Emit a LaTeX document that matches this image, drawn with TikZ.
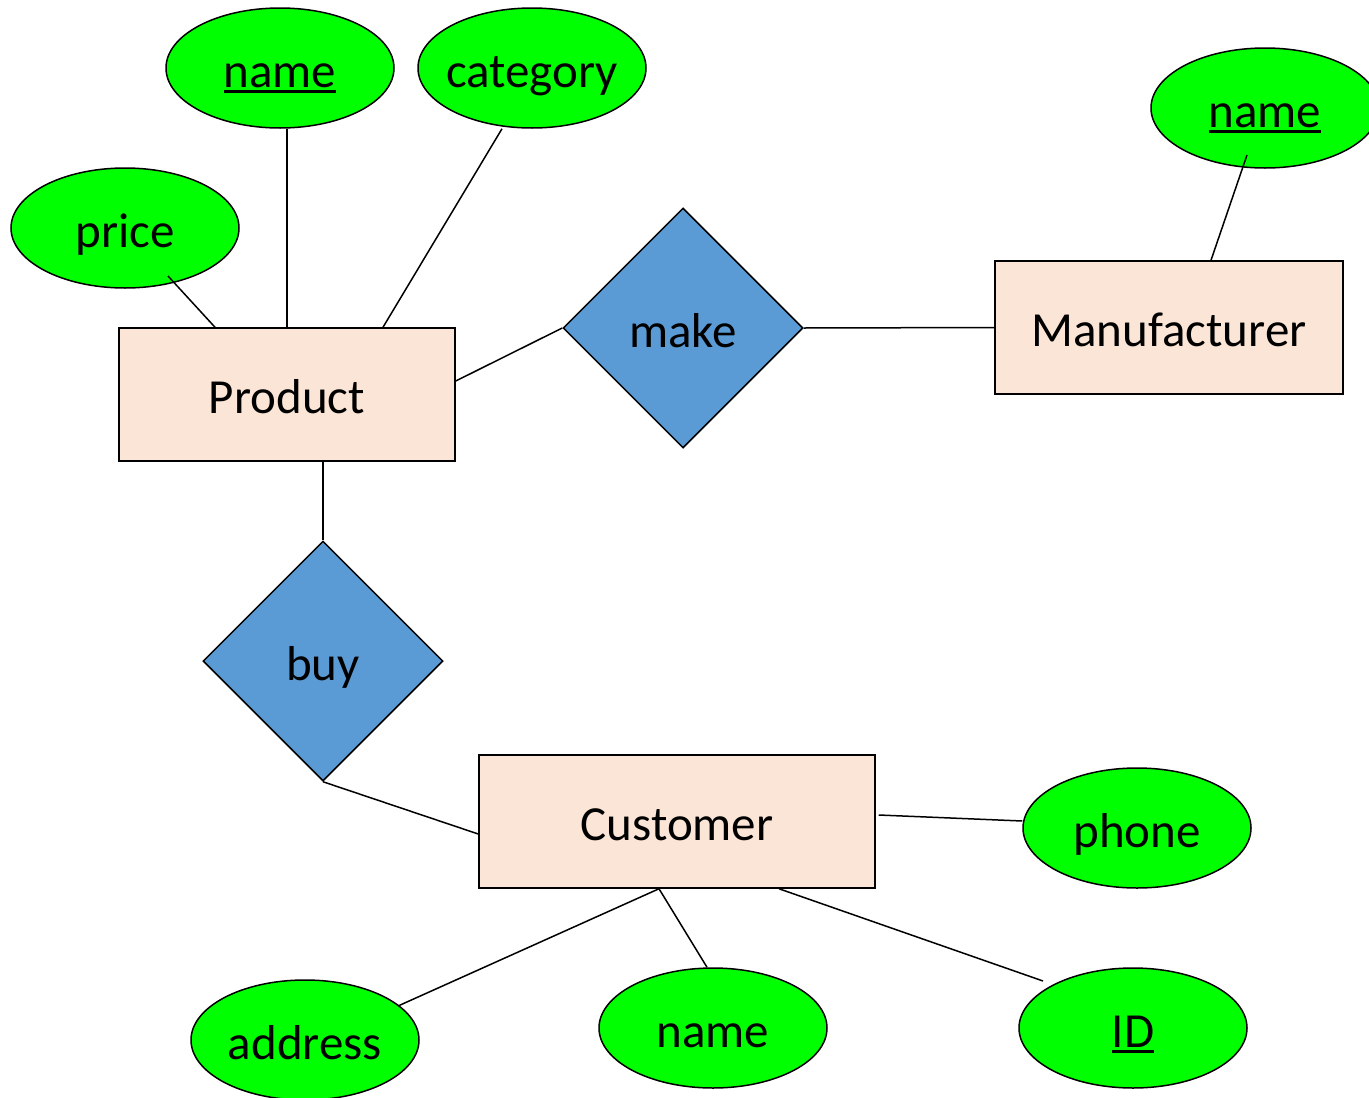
\documentclass[tikz,border=0pt]{standalone}
\usepackage{fontspec}
\setmainfont{Carlito}
\usetikzlibrary{shapes.geometric,calc}
\definecolor{attrgreen}{HTML}{00FF00}
\definecolor{entfill}{HTML}{FBE5D6}
\definecolor{relfill}{HTML}{5B9BD5}
\newcommand\keyul[1]{\setbox0\hbox{#1}\rlap{\raisebox{-6pt}{\rule{\wd0}{2.6pt}}}\box0}
\tikzset{
  attr/.style={ellipse, draw=black, line width=1.5pt, fill=attrgreen, minimum width=228pt, minimum height=120pt, inner xsep=-20pt, inner ysep=0pt},
  entity/.style={rectangle, draw=black, line width=1.5pt, fill=entfill, inner sep=0pt},
  rel/.style={diamond, draw=black, line width=1.5pt, fill=relfill, minimum width=240pt, minimum height=240pt, inner sep=0pt, aspect=1},
  conn/.style={line width=1.5pt, black}
}
\begin{document}
\begin{tikzpicture}[x=1pt,y=-1pt,font=\fontsize{49}{58}\selectfont,
  every node/.append style={text height=38pt, text depth=0pt}]
\useasboundingbox (0,0) rectangle (1369,1098);
\clip (0,0) rectangle (1369,1098);
% attributes
\node[attr] (pname) at (280,68) {\keyul{name}};
\node[attr] (cat) at (532,68) {category};
\node[attr] (price) at (125,228) {price};
\node[attr] (mname) at (1265,108) {\keyul{name}};
\node[attr] (phone) at (1137,828) {phone};
\node[attr] (addr) at (305,1040) {address};
\node[attr] (cname) at (713,1028) {name};
\node[attr] (cid) at (1133,1028) {\keyul{ID}};
% entities
\node[entity, minimum width=336pt, minimum height=133pt] (P) at (287,394.5) {Product};
\node[entity, minimum width=348pt, minimum height=133pt] (M) at (1169,327.5) {Manufacturer};
\node[entity, minimum width=396pt, minimum height=133pt] (C) at (677,821.5) {Customer};
% relationships
\node[rel] (make) at (683,328) {make};
\node[rel] (buy) at (323,661) {buy};
% connectors
\draw[conn] ($(price.center)+(43,48)$) -- ($(P.north)+(-72,0)$);
\draw[conn] ($(pname.south)+(7,0)$) -- (P.north);
\draw[conn] ($(cat.south)+(-30,0)$) -- ($(P.north)+(96,0)$);
\draw[conn] ($(P.east)+(0,-13.5)$) -- (make.west);
\draw[conn] (make.east) -- (M.west);
\draw[conn] ($(mname.center)+(-18,47)$) -- ($(M.north)+(42,0)$);
\draw[conn] ($(P.south)+(36,0)$) -- (buy.north);
\draw[conn] (buy.south) -- ($(C.west)+(0,12.5)$);
\draw[conn] ($(C.east)+(3,-6.5)$) -- ($(phone.west)+(0,-7)$);
\draw[conn] ($(C.south)+(-18,0)$) -- ($(addr.center)+(93,-34)$);
\draw[conn] ($(C.south)+(-18,0)$) -- ($(cname.north)+(-6,0)$);
\draw[conn] ($(C.south)+(102,0)$) -- ($(cid.center)+(-90,-47)$);
\end{tikzpicture}
\end{document}
